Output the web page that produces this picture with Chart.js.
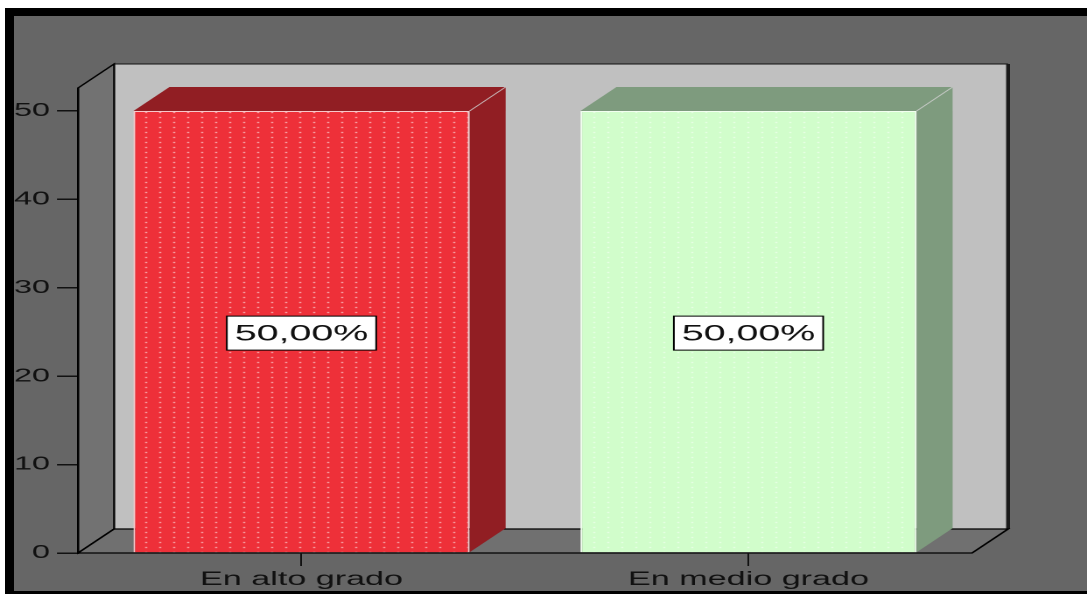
<!DOCTYPE html>
<html>
<head>
<meta charset="utf-8">
<script src="https://cdn.jsdelivr.net/npm/chart.js@4.4.0/dist/chart.umd.min.js"></script>
<style>
  html, body { margin: 0; padding: 0; background: #fff; overflow: hidden; }
  .frame {
    position: absolute; left: 5px; top: 8px; width: 1100px; height: 586px;
    box-sizing: border-box; background: #666666;
    border-left: 9px solid #000; border-top: 8px solid #000; border-bottom: 3px solid #000;
  }
  #chart {
    position: absolute; left: 0; top: 0;
    transform: scaleX(1.7504); transform-origin: 0 0;
  }
</style>
</head>
<body>
<div class="frame"></div>
<canvas id="chart" width="621" height="594"></canvas>
<script>
// data
const categories = ["En alto grado", "En medio grado"]
const percents = [50, 50]
const frontColors = ["#ee3039", "#d1fdcb"]
const dotColors = ["#fde2e3", "#f6fff5"]
const darkColors = ["#911e23", "#7e9b7e"]
const edgeColors = ["#f7c9cb", "#f2fff0"]

// depth of the 3D box (canvas units, the canvas is stretched horizontally)
const DX = 20.6
const DY = -24

function makePattern(base, dot) {
  const c = document.createElement("canvas")
  c.width = 8
  c.height = 5
  const g = c.getContext("2d")
  g.fillStyle = base
  g.fillRect(0, 0, 8, 5)
  g.fillStyle = dot
  g.fillRect(3, 2, 1, 1)
  return g.createPattern(c, "repeat")
}

const fmt = (v) => v.toFixed(2).replace(".", ",") + "%"

function poly(ctx, pts, fill, stroke, lw) {
  ctx.beginPath()
  ctx.moveTo(pts[0][0], pts[0][1])
  for (let i = 1; i < pts.length; i++) ctx.lineTo(pts[i][0], pts[i][1])
  ctx.closePath()
  if (fill) {
    ctx.fillStyle = fill
    ctx.fill()
  }
  if (stroke) {
    ctx.strokeStyle = stroke
    ctx.lineWidth = lw || 1
    ctx.stroke()
  }
}

const box3d = {
  id: "box3d",
  beforeDraw(chart) {
    const { ctx, chartArea: a } = chart
    const L = a.left, R = a.right, T = a.top, B = a.bottom
    ctx.save()
    // back wall
    poly(ctx, [[L + DX, T + DY], [R + DX, T + DY], [R + DX, B + DY], [L + DX, B + DY]], "#c0c0c0")
    ctx.strokeStyle = "#111"
    ctx.lineWidth = 1
    ctx.beginPath()
    ctx.moveTo(L + DX, B + DY)
    ctx.lineTo(L + DX, T + DY)
    ctx.lineTo(R + DX, T + DY)
    ctx.stroke()
    ctx.strokeStyle = "#1a1a1a"
    ctx.lineWidth = 2.2
    ctx.beginPath()
    ctx.moveTo(R + DX, T + DY)
    ctx.lineTo(R + DX, B + DY)
    ctx.stroke()
    // left wall
    poly(ctx, [[L, T], [L + DX, T + DY], [L + DX, B + DY], [L, B]], "#727272", "#000", 1.1)
    // floor
    poly(ctx, [[L, B], [L + DX, B + DY], [R + DX, B + DY], [R, B]], "#707070", "#000", 1.3)
    ctx.restore()
  },
  beforeDatasetsDraw(chart) {
    const ctx = chart.ctx
    ctx.save()
    chart.getDatasetMeta(0).data.forEach((bar, i) => {
      const l = bar.x - bar.width / 2
      const r = bar.x + bar.width / 2
      const y = bar.y
      const b = bar.base
      poly(ctx, [[l, y], [l + DX, y + DY], [r + DX, y + DY], [r, y]], darkColors[i])
      poly(ctx, [[r, y], [r + DX, y + DY], [r + DX, b + DY], [r, b]], darkColors[i])
      ctx.strokeStyle = "rgba(210,210,210,0.8)"
      ctx.lineWidth = 0.8
      ctx.beginPath()
      ctx.moveTo(r, y)
      ctx.lineTo(r + DX, y + DY)
      ctx.stroke()
    })
    ctx.restore()
  },
  afterDatasetsDraw(chart) {
    const ctx = chart.ctx
    ctx.save()
    ctx.font = "22.5px 'Liberation Sans', Arial, sans-serif"
    ctx.textAlign = "center"
    ctx.textBaseline = "middle"
    chart.getDatasetMeta(0).data.forEach((bar, i) => {
      const txt = fmt(percents[i])
      const cy = (bar.y + bar.base) / 2 + 1.5
      const w = ctx.measureText(txt).width + 9
      const h = 34
      ctx.fillStyle = "#fff"
      ctx.fillRect(bar.x - w / 2, cy - h / 2, w, h)
      ctx.strokeStyle = "#000"
      ctx.lineWidth = 1
      ctx.strokeRect(bar.x - w / 2, cy - h / 2, w, h)
      ctx.fillStyle = "#111"
      ctx.fillText(txt, bar.x, cy + 1)
    })
    ctx.restore()
  },
}

const ctx = document.getElementById("chart").getContext("2d")

new Chart(ctx, {
  type: "bar",
  data: {
    labels: categories,
    datasets: [
      {
        data: percents,
        backgroundColor: frontColors.map((c, i) => makePattern(c, dotColors[i])),
        borderColor: edgeColors,
        borderWidth: 1,
        categoryPercentage: 1,
        barPercentage: 0.752,
      },
    ],
  },
  options: {
    responsive: false,
    devicePixelRatio: 2,
    animation: false,
    layout: { padding: { left: 0, right: 65.7, top: 88, bottom: 0 } },
    plugins: {
      legend: { display: false },
      tooltip: { enabled: false },
    },
    scales: {
      x: {
        offset: true,
        afterFit: (s) => { s.height = 41 },
        grid: { offset: false, drawOnChartArea: false, tickLength: 13, color: "#111", lineWidth: 1 },
        border: { display: false },
        ticks: {
          color: "#111",
          padding: 2,
          font: { family: "'Liberation Sans', Arial, sans-serif", size: 19.5 },
        },
      },
      y: {
        min: 0,
        max: 52.6,
        afterFit: (s) => { s.width = 44.56 },
        grid: { drawOnChartArea: false, tickLength: 12, color: "#111", lineWidth: 1.5 },
        border: { display: true, color: "#000", width: 1.2 },
        ticks: {
          stepSize: 10,
          includeBounds: false,
          color: "#111",
          padding: 4,
          font: { family: "'Liberation Sans', Arial, sans-serif", size: 18.5 },
        },
      },
    },
  },
  plugins: [box3d],
})
</script>
</body>
</html>
